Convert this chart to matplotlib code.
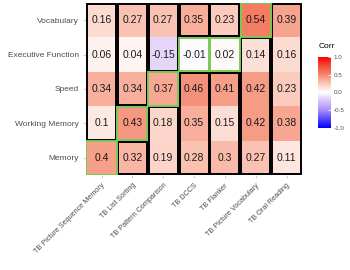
import numpy as np
import matplotlib
matplotlib.use('Agg')
import matplotlib.pyplot as plt
import matplotlib.transforms as mtransforms
from matplotlib.colors import LinearSegmentedColormap
from matplotlib.patches import Rectangle

plt.rcParams['font.family'] = ['Liberation Sans', 'DejaVu Sans']

# data
tests = ['TB Picture Sequence Memory', 'TB List Sorting', 'TB Pattern Comparison',
         'TB DCCS', 'TB Flanker', 'TB Picture Vocabulary', 'TB Oral Reading']
constructs = ['Vocabulary', 'Executive Function', 'Speed', 'Working Memory', 'Memory']
vocab = [0.16, 0.27, 0.27, 0.35, 0.23, 0.54, 0.39]
exec_fn = [0.06, 0.04, -0.15, -0.01, 0.02, 0.14, 0.16]
speed = [0.34, 0.34, 0.37, 0.46, 0.41, 0.42, 0.23]
work_mem = [0.1, 0.43, 0.18, 0.35, 0.15, 0.42, 0.38]
memory = [0.4, 0.32, 0.19, 0.28, 0.3, 0.27, 0.11]
# construct each test is meant to measure (None = no match)
target = ['Memory', 'Working Memory', 'Speed', 'Executive Function',
          'Executive Function', 'Vocabulary', None]

corr = np.array([vocab, exec_fn, speed, work_mem, memory])

# blue - white - red, roughly like ggplot's Lab gradient2
nodes = [(-1.0, (0.0, 0.0, 1.0)),
         (-0.5, (0.66, 0.55, 0.98)),
         (-0.15, (0.90, 0.84, 0.98)),
         (0.0, (1.0, 1.0, 1.0)),
         (0.25, (0.985, 0.785, 0.725)),
         (0.5, (0.955, 0.53, 0.43)),
         (0.75, (0.96, 0.30, 0.22)),
         (1.0, (1.0, 0.0, 0.0))]
cmap = LinearSegmentedColormap.from_list(
    'corr', [((v + 1) / 2, c) for v, c in nodes])

fig = plt.figure(figsize=(3.5, 2.7), dpi=100)
ax = fig.add_axes([0.246, 0.352, 0.617, 0.637])

nr, nc = corr.shape
im = ax.imshow(corr, cmap=cmap, vmin=-1, vmax=1, aspect='auto',
               extent=(-0.5, nc - 0.5, nr - 0.5, -0.5))

for i in range(nr):
    for j in range(nc):
        ax.text(j, i, '%g' % corr[i, j], ha='center', va='center',
                fontsize=7.5, color='#1a1a1a')

green = '#79c957'
for j in range(nc):
    t = constructs.index(target[j]) if target[j] else None
    # black boxes around the runs of non-target cells
    runs, start = [], None
    for i in range(nr):
        if i != t and start is None:
            start = i
        if (i == t or i == nr - 1) and start is not None:
            end = i - 1 if i == t else i
            runs.append((start, end))
            start = None
    for s, e in runs:
        ax.add_patch(Rectangle((j - 0.47, s - 0.47), 0.94, e - s + 0.94,
                               fill=False, ec='black', lw=1.4, zorder=3))
    if t is not None:
        ax.add_patch(Rectangle((j - 0.49, t - 0.49), 0.98, 0.98,
                               fill=False, ec=green, lw=1.4, zorder=4))

ax.set_xlim(-0.5, nc - 0.5)
ax.set_ylim(nr - 0.5, -0.5)
ax.set_xticks(range(nc))
ax.set_xticklabels(tests, rotation=45, ha='right', va='top',
                   rotation_mode='anchor', fontsize=5.2, color='#4d4d4d')
shift = mtransforms.ScaledTranslation(10 / 100, 0, fig.dpi_scale_trans)
for lab in ax.get_xticklabels():
    lab.set_transform(lab.get_transform() + shift)
ax.set_yticks(range(nr))
ax.set_yticklabels(constructs, fontsize=6, color='#4d4d4d')
ax.tick_params(length=2, width=0.5, color='#bbbbbb', pad=3)
for sp in ax.spines.values():
    sp.set_visible(False)

cax = fig.add_axes([0.909, 0.526, 0.037, 0.263])
cb = fig.colorbar(im, cax=cax, ticks=[-1, -0.5, 0, 0.5, 1])
cb.set_ticklabels(['-1.0', '-0.5', '0.0', '0.5', '1.0'])
cb.outline.set_visible(False)
cax.tick_params(labelsize=4.5, length=2, width=0.5, color='white',
                direction='in', labelcolor='#4d4d4d', pad=2)
fig.text(0.909, 0.815, 'Corr', fontsize=6, color='black', ha='left', va='bottom')

fig.savefig('out.png', dpi=100)
